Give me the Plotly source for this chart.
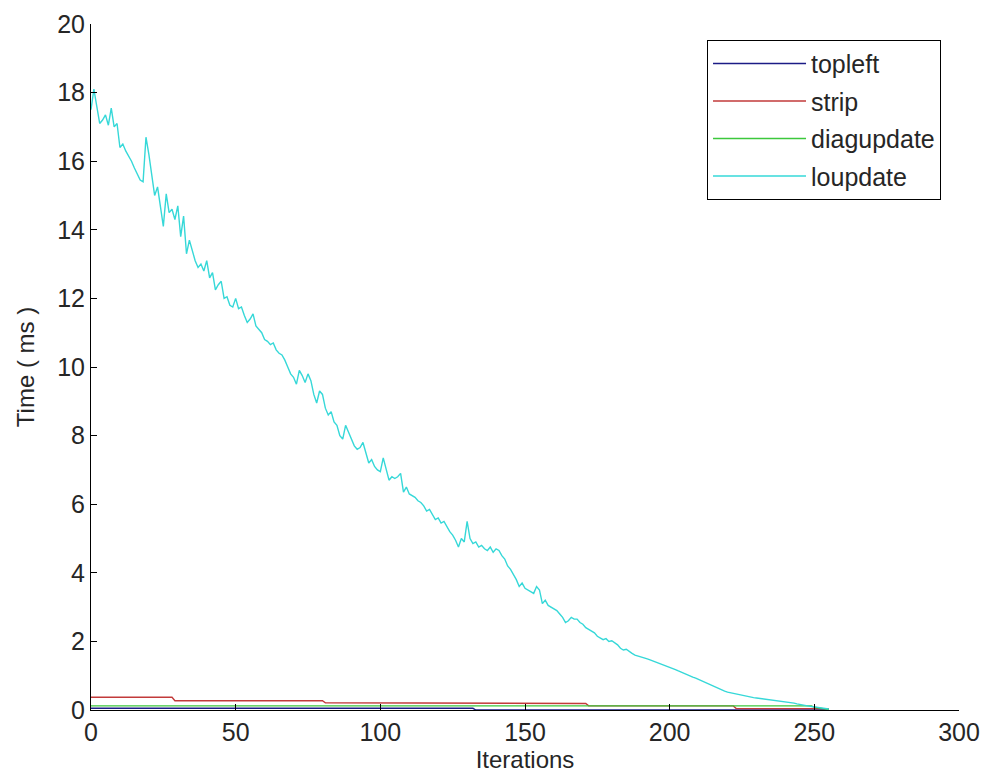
import plotly.graph_objects as go

iterations = list(range(256))

loupdate = [
    17.5, 18.1, 17.6, 17.1, 17.2, 17.35, 17.05, 17.55, 17.0, 17.1,
    16.4, 16.5, 16.3, 16.15, 16.0, 15.8, 15.6, 15.45, 15.4, 16.7,
    16.2, 15.6, 15.0, 15.25, 14.6, 14.1, 15.05, 14.5, 14.6, 14.3,
    14.7, 13.8, 14.4, 13.3, 13.7, 13.4, 13.1, 12.9, 13.0, 12.8,
    13.1, 12.6, 12.75, 12.25, 12.4, 12.5, 12.0, 12.05, 11.8, 11.75,
    12.0, 11.7, 11.75, 11.5, 11.3, 11.4, 11.55, 11.2, 11.1, 11.0,
    10.8, 10.75, 10.65, 10.7, 10.5, 10.4, 10.35, 10.2, 10.0, 9.8,
    9.7, 9.5, 9.9, 9.75, 9.55, 9.8, 9.6, 9.2, 8.95, 9.3,
    9.2, 8.8, 8.6, 8.7, 8.4, 8.3, 8.0, 7.9, 8.3, 8.1,
    7.9, 7.7, 7.6, 7.65, 7.8, 7.5, 7.2, 7.3, 7.1, 7.0,
    6.95, 7.35, 7.0, 6.7, 6.8, 6.75, 6.8, 6.9, 6.35, 6.5,
    6.3, 6.25, 6.2, 6.1, 6.05, 5.95, 5.8, 5.85, 5.7, 5.55,
    5.6, 5.45, 5.5, 5.35, 5.2, 5.1, 4.95, 4.75, 5.0, 4.9,
    5.5, 5.0, 4.85, 4.9, 4.75, 4.8, 4.7, 4.65, 4.75, 4.6,
    4.7, 4.65, 4.5, 4.4, 4.2, 4.1, 3.95, 3.8, 3.6, 3.7,
    3.55, 3.5, 3.45, 3.4, 3.6, 3.5, 3.1, 3.2, 3.05, 3.0,
    2.95, 2.9, 2.8, 2.7, 2.55, 2.6, 2.7, 2.65, 2.65, 2.55,
    2.5, 2.4, 2.35, 2.3, 2.25, 2.15, 2.1, 2.05, 2.08, 2.0,
    2.02, 1.95, 1.9, 1.8, 1.75, 1.77, 1.7, 1.65, 1.6, 1.58,
    1.55, 1.52, 1.5, 1.47, 1.44, 1.4, 1.38, 1.33, 1.3, 1.27,
    1.25, 1.22, 1.18, 1.14, 1.1, 1.06, 1.02, 0.99, 0.96, 0.93,
    0.89, 0.86, 0.82, 0.79, 0.75, 0.71, 0.67, 0.63, 0.59, 0.55,
    0.52, 0.5, 0.48, 0.46, 0.44, 0.42, 0.4, 0.38, 0.37, 0.36,
    0.35, 0.34, 0.33, 0.32, 0.31, 0.3, 0.29, 0.28, 0.26, 0.25,
    0.23, 0.22, 0.21, 0.2, 0.18, 0.16, 0.15, 0.13, 0.11, 0.1,
    0.09, 0.08, 0.07, 0.06, 0.05, 0.03,
]

# step-like small series (timer resolution)
topleft = [0.05] * 133 + [0.0] * 123
strip = [0.37] * 29 + [0.27] * 52 + [0.21] * 53 + [0.19] * 38 + [0.12] * 51 + [0.04] * 33
diagupdate = [0.12] * 250 + [0.08, 0.06, 0.05, 0.04, 0.03, 0.02]

series_names = ["topleft", "strip", "diagupdate", "loupdate"]
series_values = [topleft, strip, diagupdate, loupdate]
series_colors = ["#1c1c86", "#c23a3a", "#3cc83c", "#36d8d8"]

x_ticks = [0, 50, 100, 150, 200, 250, 300]
y_ticks = [0, 2, 4, 6, 8, 10, 12, 14, 16, 18, 20]

fig = go.Figure()
for name, vals, col in zip(series_names, series_values, series_colors):
    fig.add_trace(go.Scatter(
        x=iterations, y=vals, mode="lines", name=name,
        line=dict(color=col, width=1.4), legendgroup=name,
    ))

font_family = "Liberation Sans, Arial, sans-serif"
fig.update_layout(
    width=983, height=778,
    margin=dict(l=91, r=24, t=24, b=68),
    paper_bgcolor="white", plot_bgcolor="white",
    font=dict(family=font_family, size=25, color="#262626"),
    showlegend=True,
    legend=dict(
        x=0.7097, y=0.977, xanchor="left", yanchor="top",
        bgcolor="white", bordercolor="black", borderwidth=1,
        font=dict(family=font_family, size=25, color="#262626"),
        itemwidth=93, tracegroupgap=2,
    ),
    xaxis=dict(
        range=[0, 300], tickvals=x_ticks, ticktext=[str(v) for v in x_ticks],
        showgrid=False, zeroline=False, showline=True, linecolor="black",
        linewidth=1, ticks="inside", ticklen=6, tickcolor="black",
        mirror=False, automargin=False,
        title=dict(text="Iterations", font=dict(size=24), standoff=6),
        tickfont=dict(size=25),
    ),
    yaxis=dict(
        range=[0, 20], tickvals=y_ticks, ticktext=[str(v) for v in y_ticks],
        showgrid=False, zeroline=False, showline=True, linecolor="black",
        linewidth=1, ticks="inside", ticklen=6, tickcolor="black",
        mirror=False, automargin=False,
        title=dict(text="Time ( ms )", font=dict(size=24), standoff=15),
        tickfont=dict(size=25),
    ),
)

fig.write_html("out.html")
